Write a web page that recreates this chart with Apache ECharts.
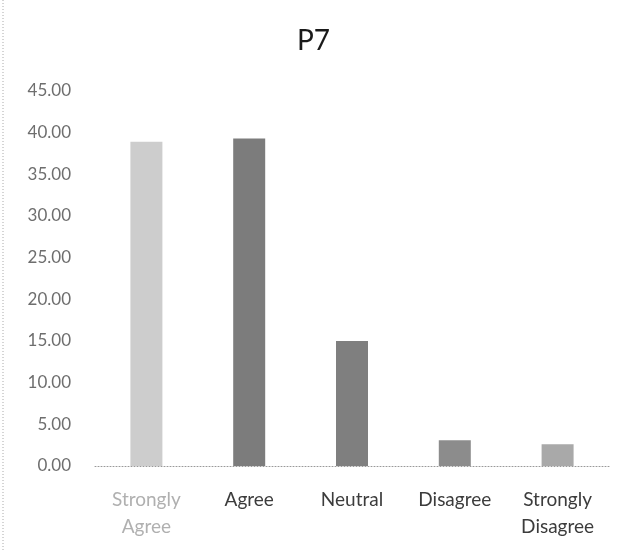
<!DOCTYPE html>
<html>
<head>
<meta charset="utf-8">
<script src="https://cdn.jsdelivr.net/npm/echarts@6/dist/echarts.min.js"></script>
<style>
html,body{margin:0;padding:0;background:#fff;}
#chart{width:627px;height:550px;}
</style>
</head>
<body>
<div id="chart"></div>
<script>
var title = 'P7';
var categories = ['Strongly\nAgree', 'Agree', 'Neutral', 'Disagree', 'Strongly\nDisagree'];
var values = [38.9, 39.3, 15.0, 3.1, 2.6];
var barColors = ['#cdcdcd', '#7c7c7c', '#7f7f7f', '#8c8c8c', '#a9a9a9'];
var labelColors = ['#b0b0b0', '#3c3c3c', '#3c3c3c', '#3c3c3c', '#3c3c3c'];

var chart = echarts.init(document.getElementById('chart'), null, {renderer: 'canvas'});
chart.setOption({
  backgroundColor: '#fff',
  animation: false,
  title: {
    text: title,
    left: 'center',
    top: 22,
    textStyle: {fontFamily: 'Lato', fontWeight: 'normal', fontSize: 28, color: '#1a1a1a'}
  },
  graphic: [{
    type: 'line',
    shape: {x1: 3, y1: 0, x2: 3, y2: 550},
    style: {stroke: '#aaa', lineWidth: 1, lineDash: [1, 2]}
  }],
  grid: {left: 95, right: 18, top: 91, bottom: 84, containLabel: false},
  xAxis: {
    type: 'category',
    data: categories,
    axisLine: {show: true, lineStyle: {color: '#999', type: [1, 2], width: 1}},
    axisTick: {show: false},
    axisLabel: {
      interval: 0,
      margin: 20,
      fontFamily: 'Lato',
      fontSize: 19,
      lineHeight: 27,
      color: function (v, i) { return labelColors[i]; }
    }
  },
  yAxis: {
    type: 'value',
    min: 0,
    max: 45,
    interval: 5,
    axisLine: {show: false},
    axisTick: {show: false},
    splitLine: {show: false},
    axisLabel: {
      margin: 24,
      fontFamily: 'Lato',
      fontSize: 17,
      color: '#6e6e6e',
      formatter: function (v) { return v.toFixed(2); }
    }
  },
  series: [{
    type: 'bar',
    data: values.map(function (v, i) { return {value: v, itemStyle: {color: barColors[i]}}; }),
    barWidth: 32
  }]
});
</script>
</body>
</html>
